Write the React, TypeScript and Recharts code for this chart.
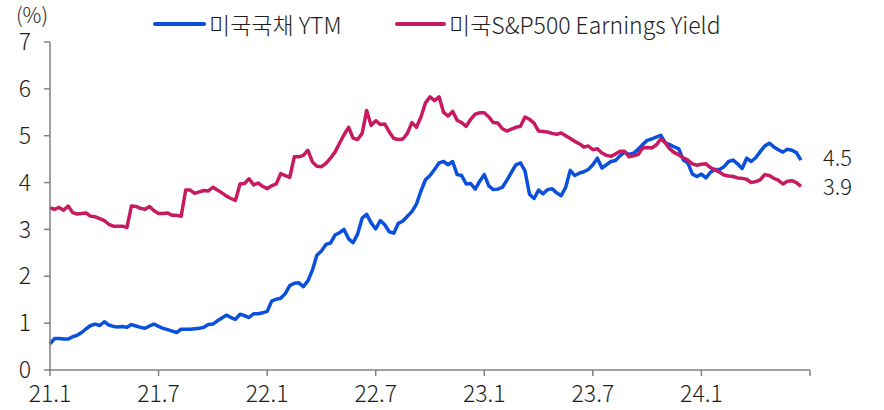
import { LineChart, Line, XAxis, YAxis, LabelList } from "recharts";

const FONT = "'Noto Sans CJK KR', 'Noto Sans', sans-serif";
const BLUE = "#0a50dc";
const RED = "#c81a60";
const TEXT = "#1e1e1e";
const AXIS = "#808080";

// weekly-ish readings, one every quarter month from 21.1
const YTM = [
  0.56, 0.67, 0.67, 0.66, 0.66, 0.71, 0.74, 0.80, 0.88, 0.95,
  0.98, 0.95, 1.03, 0.96, 0.93, 0.92, 0.93, 0.91, 0.97, 0.94,
  0.91, 0.89, 0.94, 0.98, 0.93, 0.89, 0.86, 0.83, 0.80, 0.87,
  0.87, 0.87, 0.88, 0.89, 0.91, 0.97, 0.98, 1.05, 1.11, 1.17,
  1.12, 1.08, 1.19, 1.16, 1.12, 1.20, 1.20, 1.22, 1.25, 1.47,
  1.51, 1.53, 1.63, 1.80, 1.85, 1.86, 1.78, 1.90, 2.13, 2.45,
  2.54, 2.68, 2.71, 2.88, 2.93, 3.00, 2.80, 2.72, 2.90, 3.24,
  3.32, 3.14, 3.01, 3.19, 3.10, 2.95, 2.92, 3.13, 3.18, 3.28,
  3.38, 3.54, 3.82, 4.06, 4.15, 4.28, 4.42, 4.45, 4.38, 4.45,
  4.17, 4.15, 3.97, 3.98, 3.86, 4.03, 4.17, 3.93, 3.85, 3.86,
  3.90, 4.05, 4.22, 4.38, 4.42, 4.25, 3.75, 3.66, 3.84, 3.76,
  3.85, 3.87, 3.78, 3.72, 3.90, 4.26, 4.15, 4.20, 4.23, 4.28,
  4.38, 4.52, 4.31, 4.38, 4.45, 4.47, 4.57, 4.65, 4.60, 4.63,
  4.71, 4.81, 4.90, 4.93, 4.97, 5.01, 4.85, 4.81, 4.76, 4.72,
  4.48, 4.42, 4.18, 4.13, 4.18, 4.10, 4.22, 4.28, 4.28, 4.34,
  4.45, 4.48, 4.40, 4.30, 4.52, 4.45, 4.53, 4.66, 4.78, 4.84,
  4.76, 4.70, 4.65, 4.71, 4.69, 4.64, 4.48,
];

const EARNINGS = [
  3.46, 3.43, 3.47, 3.41, 3.50, 3.36, 3.33, 3.34, 3.35, 3.28,
  3.27, 3.23, 3.19, 3.11, 3.07, 3.07, 3.07, 3.04, 3.50, 3.49,
  3.45, 3.43, 3.49, 3.40, 3.34, 3.34, 3.35, 3.30, 3.30, 3.28,
  3.84, 3.84, 3.77, 3.80, 3.83, 3.82, 3.90, 3.84, 3.78, 3.71,
  3.66, 3.62, 3.97, 3.98, 4.08, 3.95, 3.99, 3.92, 3.87, 3.93,
  3.97, 4.19, 4.15, 4.11, 4.55, 4.55, 4.58, 4.69, 4.44, 4.35,
  4.34, 4.41, 4.52, 4.65, 4.84, 5.02, 5.18, 4.95, 4.92, 5.05,
  5.54, 5.22, 5.32, 5.24, 5.25, 5.08, 4.94, 4.92, 4.93, 5.05,
  5.28, 5.18, 5.40, 5.70, 5.83, 5.75, 5.83, 5.50, 5.42, 5.52,
  5.33, 5.28, 5.20, 5.35, 5.46, 5.49, 5.49, 5.40, 5.28, 5.27,
  5.15, 5.10, 5.14, 5.18, 5.20, 5.40, 5.35, 5.27, 5.10, 5.09,
  5.08, 5.05, 5.03, 5.06, 5.00, 4.94, 4.88, 4.83, 4.76, 4.78,
  4.70, 4.72, 4.63, 4.58, 4.56, 4.61, 4.67, 4.67, 4.55, 4.57,
  4.60, 4.74, 4.75, 4.74, 4.80, 4.93, 4.85, 4.72, 4.64, 4.59,
  4.53, 4.48, 4.40, 4.37, 4.39, 4.40, 4.32, 4.27, 4.22, 4.16,
  4.14, 4.13, 4.10, 4.09, 4.07, 4.00, 4.02, 4.06, 4.17, 4.15,
  4.09, 4.05, 3.97, 4.03, 4.04, 4.00, 3.92,
];

const X_TICKS = [0, 6, 12, 18, 24, 30, 36, 42];
const X_LABELS = ["21.1", "21.7", "22.1", "22.7", "23.1", "23.7", "24.1", ""];
const Y_TICKS = [0, 1, 2, 3, 4, 5, 6, 7];

const rows = YTM.map((v, i) => ({ m: i / 4, ytm: v, ey: EARNINGS[i] }));
const LAST = rows.length - 1;

const tickStyle = { fill: TEXT, fontSize: 23, fontFamily: FONT, fontWeight: 300 };

function endLabel(nudge: number) {
  return (p: any) => {
    if (p.index !== LAST) return null;
    return (
      <text
        x={Number(p.x) + 22}
        y={Number(p.y) + nudge}
        dy="0.36em"
        fill={TEXT}
        fontSize={22}
        fontWeight={300}
        fontFamily={FONT}
        textAnchor="start"
      >
        {Number(p.value).toFixed(1)}
      </text>
    );
  };
}

export default function App() {
  return (
    <div
      style={{
        position: "absolute", left: 0, top: 0, width: 884, height: 410,
        background: "#fff", fontFamily: FONT, fontWeight: 300, color: TEXT
      }}
    >
      <LineChart
        width={884}
        height={410}
        data={rows}
        margin={{ top: 42, right: 74, bottom: 0, left: 0 }}
      >
        <XAxis
          type="number"
          dataKey="m"
          domain={[0, 42]}
          ticks={X_TICKS}
          tickFormatter={(v: number) => X_LABELS[X_TICKS.indexOf(v)] ?? ""}
          height={40}
          tickSize={6}
          tickMargin={10}
          interval={0}
          tick={tickStyle}
          axisLine={{ stroke: AXIS, strokeWidth: 1.5 }}
          tickLine={{ stroke: AXIS, strokeWidth: 1.5 }}
        />
        <YAxis
          domain={[0, 7]}
          ticks={Y_TICKS}
          width={50}
          tickSize={6}
          tickMargin={13}
          interval={0}
          tick={tickStyle}
          axisLine={{ stroke: AXIS, strokeWidth: 1.5 }}
          tickLine={{ stroke: AXIS, strokeWidth: 1.5 }}
        />
        <Line
          dataKey="ytm"
          stroke={BLUE}
          strokeWidth={3.5}
          dot={false}
          isAnimationActive={false}
          strokeLinejoin="round"
        >
          <LabelList dataKey="ytm" content={endLabel(-2)} />
        </Line>
        <Line
          dataKey="ey"
          stroke={RED}
          strokeWidth={3.5}
          dot={false}
          isAnimationActive={false}
          strokeLinejoin="round"
        >
          <LabelList dataKey="ey" content={endLabel(1)} />
        </Line>
      </LineChart>

      <div style={{ position: "absolute", left: 16, top: 3, fontSize: 21, lineHeight: "22px" }}>(%)</div>

      <div style={{ position: "absolute", left: 153, top: 22, width: 53, height: 4, borderRadius: 2, background: BLUE }} />
      <div style={{ position: "absolute", left: 209, top: 9, fontSize: 23, lineHeight: "30px", whiteSpace: "nowrap" }}>
        미국국채 YTM
      </div>
      <div style={{ position: "absolute", left: 395, top: 22, width: 51, height: 4, borderRadius: 2, background: RED }} />
      <div style={{ position: "absolute", left: 449, top: 9, fontSize: 23, lineHeight: "30px", whiteSpace: "nowrap" }}>
        미국S&amp;P500 Earnings Yield
      </div>
    </div>
  );
}
